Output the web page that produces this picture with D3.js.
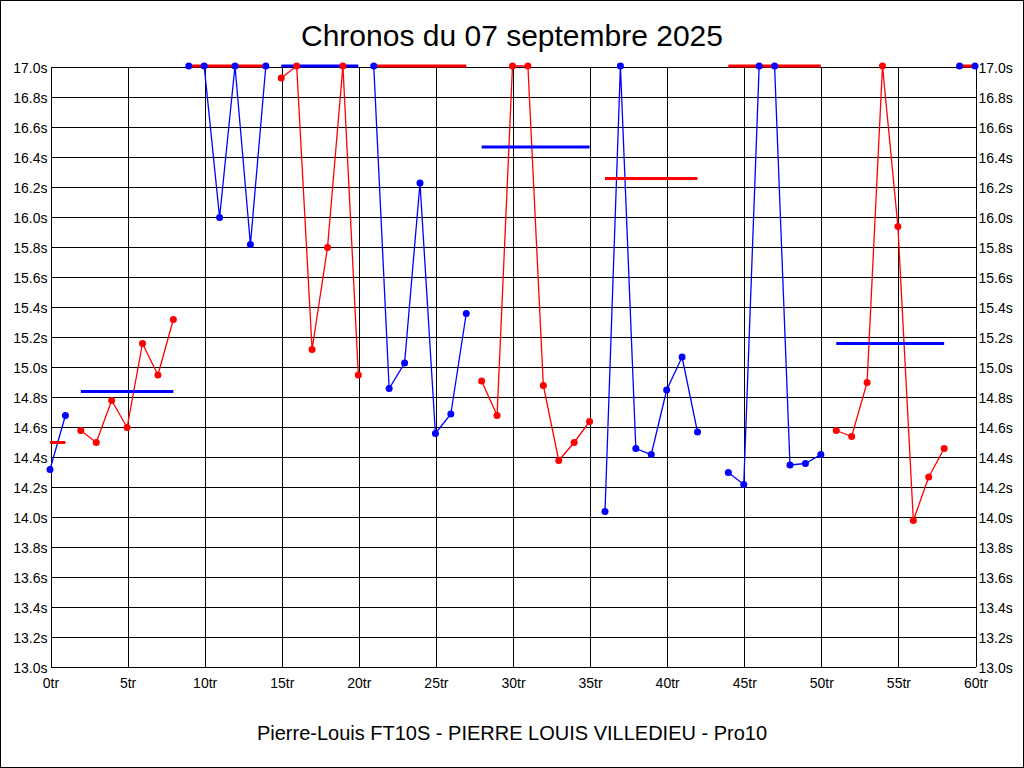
<!DOCTYPE html>
<html>
<head>
<meta charset="utf-8">
<script src="https://cdn.jsdelivr.net/npm/d3@7"></script>
<style>
  body { margin: 0; background: #fff; }
  svg { display: block; font-family: "Liberation Sans", Arial, sans-serif; }
</style>
</head>
<body>
<svg id="chart" width="1024" height="768"></svg>
<script>
// first lap number of each run
var sessionStart = [0, 2, 9, 15, 21, 28, 36, 44, 51, 59];
// lap times (s), 17.0 = off the top of the chart
var sessionTimes = [
    [14.31, 14.67],
    [14.57, 14.49, 14.77, 14.59, 15.15, 14.94, 15.31],
    [17.0, 17.0, 15.99, 17.0, 15.81, 17.0],
    [16.92, 17.0, 15.11, 15.79, 17.0, 14.94],
    [17.0, 14.85, 15.02, 16.22, 14.55, 14.68, 15.35],
    [14.90, 14.67, 17.0, 17.0, 14.87, 14.37, 14.49, 14.63],
    [14.03, 17.0, 14.45, 14.41, 14.84, 15.06, 14.56],
    [14.29, 14.21, 17.0, 17.0, 14.34, 14.35, 14.41],
    [14.57, 14.53, 14.89, 17.0, 15.93, 13.97, 14.26, 14.45],
    [17.0, 17.0]
];
// average of each run (s)
var sessionAvg = [14.49, 14.83, 17.0, 17.0, 17.0, 16.46, 16.25, 17.0, 15.15, 17.0];

var yTicks = d3.range(13.0, 17.01, 0.2);
var xTicks = d3.range(0, 61, 5);

var title = "Chronos du 07 septembre 2025";
var subtitle = "Pierre-Louis FT10S - PIERRE LOUIS VILLEDIEU - Pro10";

var pointColour = ["blue", "red", "blue", "red", "blue", "red", "blue", "blue", "red", "blue"];
var avgColour = pointColour.map(c => c == "blue" ? "red" : "blue");

var svg = d3.select("#chart");
var width = 1024, height = 768;

svg.append("rect")
    .attr("x", 0.5).attr("y", 0.5)
    .attr("width", width - 1).attr("height", height - 1)
    .attr("fill", "#fff").attr("stroke", "#000");

var x = d3.scaleLinear().domain([0, 60]).range([50, 975]);
var y = d3.scaleLinear().domain([13, 17]).range([666, 66]);

// grid + axes
var left = svg.append("g")
    .attr("transform", "translate(50.5,0.5)")
    .call(d3.axisLeft(y).tickValues(yTicks).tickSize(-925).tickSizeOuter(0).tickPadding(3)
        .tickFormat(d => d.toFixed(1) + "s"));
var right = svg.append("g")
    .attr("transform", "translate(975.5,0.5)")
    .call(d3.axisRight(y).tickValues(yTicks).tickSize(0).tickSizeOuter(0).tickPadding(3)
        .tickFormat(d => d.toFixed(1) + "s"));
var bottom = svg.append("g")
    .attr("transform", "translate(0.5,666.5)")
    .call(d3.axisBottom(x).tickValues(xTicks).tickSize(-600).tickSizeOuter(0).tickPadding(12)
        .tickFormat(d => d + "tr"));

[left, right, bottom].forEach(g => {
    g.selectAll("line").attr("stroke", "#000").attr("shape-rendering", "crispEdges");
    g.select(".domain").attr("stroke", "#000").attr("shape-rendering", "crispEdges");
    g.selectAll("text").attr("fill", "#000").style("font-size", "14px")
        .style("font-family", "'Liberation Sans', Arial, sans-serif");
});
left.selectAll("text").attr("dy", "0.42em");
right.selectAll("text").attr("dy", "0.42em");

var line = d3.line()
    .x(d => x(d.lap))
    .y(d => y(d.t));

var plot = svg.append("g");

sessionTimes.forEach((times, i) => {
    var pts = times.map((t, j) => ({ lap: sessionStart[i] + j, t: t }));
    plot.append("path")
        .datum(pts)
        .attr("d", line)
        .attr("fill", "none")
        .attr("stroke", pointColour[i])
        .attr("stroke-width", 1.3);
});

sessionTimes.forEach((times, i) => {
    var first = sessionStart[i], last = sessionStart[i] + times.length - 1;
    plot.append("line")
        .attr("x1", x(first)).attr("x2", x(last))
        .attr("y1", y(sessionAvg[i])).attr("y2", y(sessionAvg[i]))
        .attr("stroke", avgColour[i])
        .attr("stroke-width", 3);
});

sessionTimes.forEach((times, i) => {
    var pts = times.map((t, j) => ({ lap: sessionStart[i] + j, t: t }));
    plot.selectAll(null)
        .data(pts)
        .enter()
        .append("circle")
        .attr("cx", d => x(d.lap))
        .attr("cy", d => y(d.t))
        .attr("r", 3.5)
        .attr("fill", pointColour[i]);
});

svg.append("text")
    .attr("x", 512).attr("y", 46)
    .attr("text-anchor", "middle")
    .style("font-size", "30px")
    .text(title);

svg.append("text")
    .attr("x", 512).attr("y", 740)
    .attr("text-anchor", "middle")
    .style("font-size", "20px")
    .text(subtitle);
</script>
</body>
</html>
